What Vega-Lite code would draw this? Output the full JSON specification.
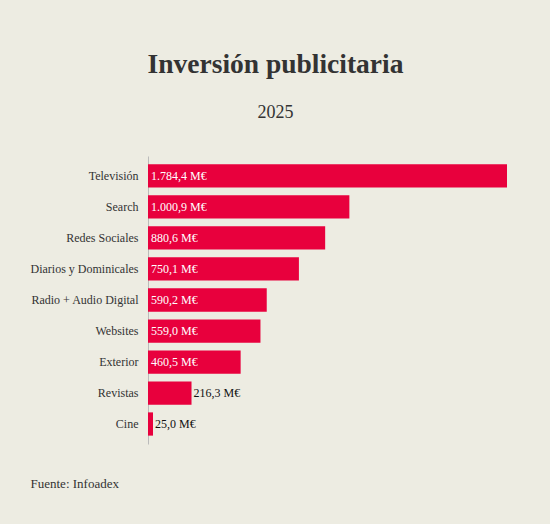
{
  "$schema": "https://vega.github.io/schema/vega-lite/v6.json",
  "autosize": "none",
  "width": 359,
  "height": 288,
  "padding": {"left": 148, "top": 156, "right": 43, "bottom": 80},
  "background": "#edece2",
  "title": {
    "text": "Inversión publicitaria",
    "subtitle": "2025",
    "anchor": "middle",
    "frame": "group",
    "dx": -52,
    "offset": 34,
    "font": "Liberation Serif",
    "fontSize": 27.5,
    "fontWeight": "bold",
    "color": "#333333",
    "subtitleFont": "Liberation Serif",
    "subtitleFontSize": 18,
    "subtitleColor": "#333333",
    "subtitlePadding": 26
  },
  "config": {
    "view": {"stroke": null},
    "locale": {
      "number": {
        "decimal": ",",
        "thousands": ".",
        "grouping": [3],
        "currency": ["", " M€"]
      }
    }
  },
  "data": {
    "values": [
      {"medio": "Televisión", "inversion": 1784.4},
      {"medio": "Search", "inversion": 1000.9},
      {"medio": "Redes Sociales", "inversion": 880.6},
      {"medio": "Diarios y Dominicales", "inversion": 750.1},
      {"medio": "Radio + Audio Digital", "inversion": 590.2},
      {"medio": "Websites", "inversion": 559.0},
      {"medio": "Exterior", "inversion": 460.5},
      {"medio": "Revistas", "inversion": 216.3},
      {"medio": "Cine", "inversion": 25.0}
    ]
  },
  "encoding": {
    "y": {
      "field": "medio",
      "type": "nominal",
      "sort": null,
      "title": null,
      "scale": {"paddingInner": 0.25, "paddingOuter": 0.27},
      "axis": {
        "ticks": false,
        "labelFont": "Liberation Serif",
        "labelFontSize": 12,
        "labelColor": "#333333",
        "labelPadding": 10,
        "domainColor": "#bbbbbb",
        "domainWidth": 1
      }
    }
  },
  "layer": [
    {
      "mark": {"type": "bar", "color": "#e8003d"},
      "encoding": {
        "x": {
          "field": "inversion",
          "type": "quantitative",
          "scale": {"domain": [0, 1784.4], "nice": false},
          "axis": {
            "title": "Fuente: Infoadex",
            "labels": false,
            "ticks": false,
            "domain": false,
            "grid": false,
            "titleAnchor": "start",
            "titleX": -118,
            "titleY": 43,
            "titleBaseline": "alphabetic",
            "titleFont": "Liberation Serif",
            "titleFontSize": 13,
            "titleFontWeight": "normal",
            "titleColor": "#333333"
          }
        }
      }
    },
    {
      "transform": [{"filter": "datum.inversion > 300"}],
      "mark": {
        "type": "text",
        "align": "left",
        "baseline": "middle",
        "dx": 3,
        "font": "Liberation Serif",
        "fontSize": 12,
        "color": "#ffffff"
      },
      "encoding": {
        "x": {"datum": 0, "type": "quantitative"},
        "text": {"field": "inversion", "type": "quantitative", "format": "$,.1f"}
      }
    },
    {
      "transform": [{"filter": "datum.inversion <= 300"}],
      "mark": {
        "type": "text",
        "align": "left",
        "baseline": "middle",
        "dx": 2,
        "font": "Liberation Serif",
        "fontSize": 12,
        "color": "#111111"
      },
      "encoding": {
        "x": {"field": "inversion", "type": "quantitative"},
        "text": {"field": "inversion", "type": "quantitative", "format": "$,.1f"}
      }
    }
  ]
}
